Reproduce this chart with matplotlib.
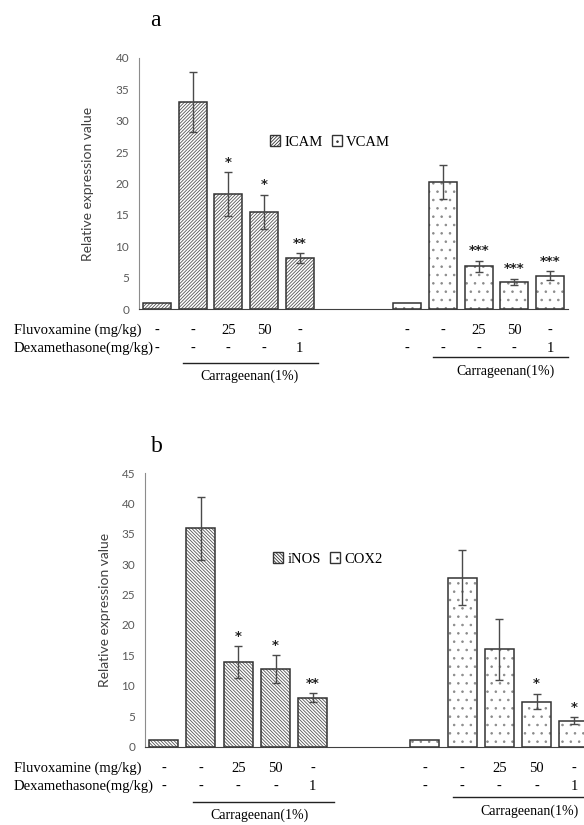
import numpy as np
import matplotlib
matplotlib.use("Agg")
import matplotlib.pyplot as plt
import matplotlib.transforms as mtrans
from matplotlib.patches import Patch
from matplotlib.lines import Line2D

# ---------------- data ----------------
fluvox_labels = ["-", "-", "25", "50", "-"]
dexa_labels = ["-", "-", "-", "-", "1"]

icam = [1.0, 33.0, 18.3, 15.5, 8.1]
icam_err = [0, 4.8, 3.5, 2.7, 0.8]
icam_sig = ["", "", "*", "*", "**"]
vcam = [1.0, 20.3, 6.8, 4.3, 5.3]
vcam_err = [0, 2.7, 0.9, 0.5, 0.7]
vcam_sig = ["", "", "***", "***", "***"]

inos = [1.0, 35.9, 13.9, 12.7, 8.0]
inos_err = [0, 5.2, 2.6, 2.3, 0.75]
inos_sig = ["", "", "*", "*", "**"]
cox2 = [1.0, 27.8, 16.0, 7.4, 4.25]
cox2_err = [0, 4.5, 5.0, 1.3, 0.55]
cox2_sig = ["", "", "", "*", "*"]

# ---------------- style ----------------
plt.rcParams["font.family"] = ["Lato", "DejaVu Sans"]
plt.rcParams["hatch.linewidth"] = 0.6
SERIF = ["Liberation Serif", "DejaVu Serif"]
EDGE = "#333333"
DOTC = "#8a8a8a"

W, H = 584, 825
fig = plt.figure(figsize=(W / 100, H / 100), dpi=100)


def fx(px):
    return px / W


def fy(py):
    return 1 - py / H


pos1 = np.arange(5)
pos2 = np.arange(5) + 7


def draw_panel(left, right, y0, ytop, ymax, s1, e1, g1, s2, e2, g2, hatch1,
               names, title, title_xy, legend_xy, ylabel_x, rows, lines, ctexts):
    ax = fig.add_axes([fx(left), fy(y0), fx(right) - fx(left), (y0 - ytop) / H])
    ax.bar(pos1, s1, width=0.78, color="white", edgecolor="#555555", hatch=hatch1,
           linewidth=0)
    ax.bar(pos1, s1, width=0.78, fill=False, edgecolor=EDGE, linewidth=1.1)
    ax.bar(pos2, s2, width=0.78, color="white", edgecolor=DOTC, hatch="..",
           linewidth=0)
    ax.bar(pos2, s2, width=0.78, fill=False, edgecolor=EDGE, linewidth=1.1)
    for pos, vals, errs, sigs in ((pos1, s1, e1, g1), (pos2, s2, e2, g2)):
        for p, v, e, s in zip(pos, vals, errs, sigs):
            if e > 0:
                ax.errorbar(p, v, yerr=e, fmt="none", ecolor="#4a4a4a",
                            elinewidth=1.0, capsize=3, capthick=1.0)
            if s:
                ax.annotate(s, (p, v + e), xytext=(0, 2.5),
                            textcoords="offset points", ha="center",
                            va="bottom", fontsize=9.5, fontweight="bold",
                            family="DejaVu Sans", color="#222222")
    ax.set_xlim(-0.5, 11.5)
    ax.set_ylim(0, ymax)
    ax.set_yticks(np.arange(0, ymax + 1, 5))
    ax.set_xticks([])
    ax.spines["top"].set_visible(False)
    ax.spines["right"].set_visible(False)
    ax.spines["left"].set_color("#8c8c8c")
    ax.spines["bottom"].set_color("#404040")
    ax.tick_params(axis="y", length=0, pad=7, labelsize=8.5, labelcolor="#595959")
    fig.text(fx(ylabel_x), fy((ytop + y0) / 2), "Relative expression value",
             rotation=90, ha="center", va="center", fontsize=10,
             color="#404040")
    fig.text(fx(title_xy[0]), fy(title_xy[1]), title, family=SERIF,
             fontsize=17, ha="center", va="center")
    handles = [Patch(facecolor="white", edgecolor=EDGE, hatch=hatch1,
                     label=names[0]),
               Patch(facecolor="white", edgecolor=EDGE, hatch="..",
                     label=names[1])]
    fig.legend(handles=handles, loc="center",
               bbox_to_anchor=(fx(legend_xy[0]), fy(legend_xy[1])), ncol=2,
               frameon=False, prop={"family": SERIF, "size": 10.5},
               handlelength=0.7, handleheight=0.7, handletextpad=0.3,
               columnspacing=0.6)
    tr = mtrans.blended_transform_factory(ax.transData, fig.transFigure)
    r1, r2 = rows
    fig.text(fx(14), fy(r1), "Fluvoxamine (mg/kg)", family=SERIF,
             fontsize=10.5, ha="left", va="center")
    fig.text(fx(14), fy(r2), "Dexamethasone(mg/kg)", family=SERIF,
             fontsize=10.5, ha="left", va="center")
    for pos in (pos1, pos2):
        for p, a, b in zip(pos, fluvox_labels, dexa_labels):
            ax.text(p, fy(r1), a, transform=tr, family=SERIF, fontsize=10.5,
                    ha="center", va="center", clip_on=False)
            ax.text(p, fy(r2), b, transform=tr, family=SERIF, fontsize=10.5,
                    ha="center", va="center", clip_on=False)
    for (xa, xb, yl), (xt, yt) in zip(lines, ctexts):
        ax.add_line(Line2D([xa, xb], [fy(yl), fy(yl)], transform=tr,
                           color="#222222", lw=1.0, clip_on=False))
        ax.text(xt, fy(yt), "Carrageenan(1%)", transform=tr, family=SERIF,
                fontsize=10, ha="center", va="center", clip_on=False)
    return ax


draw_panel(139, 568, 309, 58, 40, icam, icam_err, icam_sig, vcam, vcam_err,
           vcam_sig, "/" * 10, ("ICAM", "VCAM"), "a", (155, 20), (330, 142), 88,
           (330, 348),
           [(0.73, 4.5, 362.7), (7.72, 11.5, 356.7)],
           [(2.6, 376.7), (9.75, 371.7)])

draw_panel(145, 592.6, 746.5, 473, 45, inos, inos_err, inos_sig, cox2, cox2_err,
           cox2_sig, "\\" * 10, ("iNOS", "COX2"), "b", (157, 446), (328, 559),
           105, (768.3, 786.7),
           [(0.78, 4.58, 801.5), (7.77, 11.8, 796.7)],
           [(2.57, 815), (9.8, 811)])

fig.savefig("out.png", dpi=100)
